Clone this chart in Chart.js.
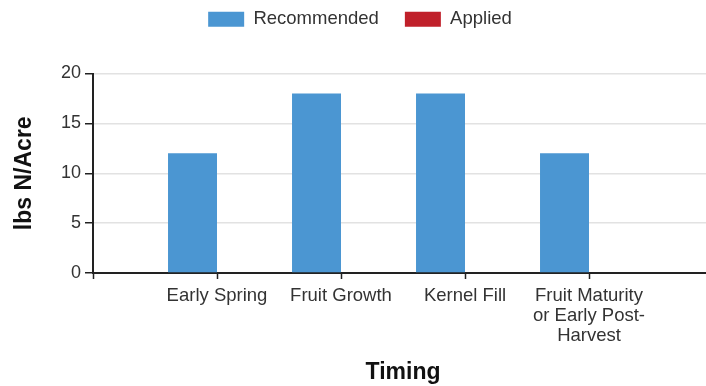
<!DOCTYPE html>
<html>
<head>
<meta charset="utf-8">
<script src="https://cdn.jsdelivr.net/npm/chart.js@4/dist/chart.umd.min.js"></script>
<style>
  html, body { margin:0; padding:0; background:#fff; overflow:hidden; }
  canvas { display:block; }
</style>
</head>
<body>
<!-- a bit wider than the frame: the axis runs off the right edge -->
<canvas id="timing-chart" width="720" height="386"></canvas>
<script>
/* Nitrogen by timing — recommended vs applied */

var categories = ['Early Spring', 'Fruit Growth', 'Kernel Fill', ['Fruit Maturity', 'or Early Post-', 'Harvest']];
var recommended = [12, 18, 18, 12];
var applied = [0, 0, 0, 0];
var yMin = 0, yMax = 20, yStep = 5;

// blank slot on each side so the category ticks sit like the old chart's axis
function padded(arr, blank){ return [blank].concat(arr, [blank]); }

var FONT = "'Liberation Sans', Arial, sans-serif";
var BLUE = '#4b96d2', RED = '#c0202a';

// extra room under the legend before the plot starts
var legendGap = {
  id: 'legendGap',
  beforeUpdate: function(chart){
    var lg = chart.legend;
    if(!lg || lg._gapPatched) return;
    var fit = lg.fit;
    lg.fit = function(){ fit.call(this); this.height += 35; };
    lg._gapPatched = true;
  }
};

new Chart(document.getElementById('timing-chart'), {
  type: 'bar',
  data: {
    labels: padded(categories, ''),
    datasets: [
      { label: 'Recommended', data: padded(recommended, null), backgroundColor: BLUE, borderWidth: 0 },
      { label: 'Applied', data: padded(applied, null), backgroundColor: RED, borderWidth: 0 }
    ]
  },
  plugins: [legendGap],
  options: {
    responsive: false, animation: false,
    layout: { padding: { top: -16, right: 0, bottom: 0, left: 0 } },
    categoryPercentage: 0.79, barPercentage: 1,
    plugins: {
      tooltip: { enabled: false },
      legend: {
        position: 'top',
        labels: { boxWidth: 36, boxHeight: 15, padding: 26, color: '#333', font: { family: FONT, size: 18.5 } }
      }
    },
    scales: {
      x: {
        offset: false,
        grid: { offset: false, drawOnChartArea: false, drawTicks: true, tickLength: 6, tickColor: '#222', tickWidth: 1.5 },
        border: { color: '#222', width: 2 },
        ticks: { color: '#333', padding: 7, maxRotation: 0, autoSkip: false, font: { family: FONT, size: 18.5, lineHeight: 1.07 } },
        title: { display: true, text: 'Timing', color: '#111', padding: 0, font: { family: FONT, size: 23, weight: 'bold' } },
        afterFit: function(s){ s.height = 113; }
      },
      y: {
        min: yMin, max: yMax,
        grid: { color: '#e2e2e2', lineWidth: 1.5, tickLength: 8, tickColor: '#222', tickWidth: 1.5 },
        border: { color: '#222', width: 2 },
        ticks: { stepSize: yStep, color: '#333', padding: 4, font: { family: FONT, size: 18 } },
        title: { display: true, text: 'lbs N/Acre', color: '#111', padding: { top: 11, bottom: 0 }, font: { family: FONT, size: 23, weight: 'bold' } },
        afterFit: function(s){ s.width = 93; }
      }
    }
  }
});
</script>
</body>
</html>
